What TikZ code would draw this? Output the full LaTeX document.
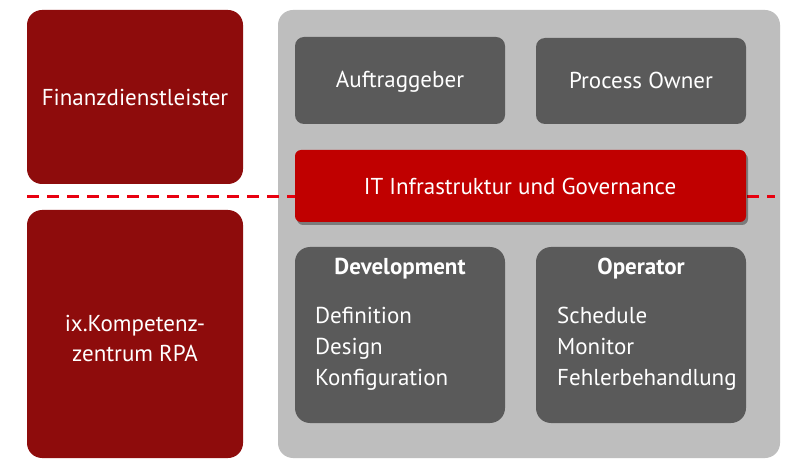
\documentclass[tikz,border=0pt]{standalone}
\usepackage{fontspec}
\setmainfont{PT Sans}
\usetikzlibrary{shadows}
\definecolor{darkred}{HTML}{8E0C0C}
\definecolor{itred}{HTML}{C00000}
\definecolor{boxgray}{HTML}{5A5A5A}
\definecolor{panelgray}{HTML}{BEBEBE}
\definecolor{dashred}{HTML}{E8000F}
\tikzset{
  px/.style={x=1pt,y=-1pt},
  redbox/.style={fill=darkred, draw=none, rounded corners=15pt},
  panel/.style={fill=panelgray, draw=none, rounded corners=15pt},
  graybox/.style={fill=boxgray, draw=none, rounded corners=9pt},
  graybigbox/.style={fill=boxgray, draw=none, rounded corners=15pt},
  itbox/.style={fill=itred, draw=none, rounded corners=6pt,
    drop shadow={shadow xshift=2pt, shadow yshift=-3pt, opacity=0.35, fill=black}},
  lbl/.style={text=white, font=\fontsize{23}{30}\selectfont, align=center, inner sep=0pt},
  ttl/.style={text=white, font=\fontsize{23}{28}\selectfont\bfseries, inner sep=0pt},
  lst/.style={text=white, font=\fontsize{23}{31}\selectfont, align=left, anchor=north west, inner sep=0pt},
  dashline/.style={draw=dashred, line width=3pt, dash pattern=on 12pt off 8pt}
}
\begin{document}
\begin{tikzpicture}[px]
\useasboundingbox (0,0) rectangle (795,470);
\fill[white] (0,0) rectangle (795,470);
% left boxes
\path[redbox] (27,10) rectangle (243,184);
\node[lbl] (fin) at (135,97) {Finanzdienstleister};
\path[redbox] (27,210) rectangle (243,458);
\node[lbl] (ix) at (135,338) {ix.Kompetenz-\\zentrum RPA};
% panel
\path[panel] (278,10) rectangle (780,458);
% dashed line
\coordinate (dl) at (27,197);
\coordinate (dr) at (775,197);
\draw[dashline] (dl) -- (dr);
% top gray boxes
\path[graybox] (295,37) rectangle (505,124);
\node[lbl] (auf) at (400,82) {Auftraggeber};
\path[graybox] (536,38) rectangle (746,124);
\node[lbl] (po) at (641,80) {Process Owner};
% IT box
\path[itbox] (295,150) rectangle (746,222);
\node[lbl] (it) at (520,186) {IT Infrastruktur und Governance};
% bottom boxes
\path[graybigbox] (295,247) rectangle (505,423);
\node[ttl] (dev) at (400,269) {Development};
\node[lst] (devl) at (315,307) {Definition\\Design\\Konfiguration};
\path[graybigbox] (536,247) rectangle (746,423);
\node[ttl] (op) at (641,269) {Operator};
\node[lst] (opl) at (557,307) {Schedule\\Monitor\\Fehlerbehandlung};
\end{tikzpicture}
\end{document}
